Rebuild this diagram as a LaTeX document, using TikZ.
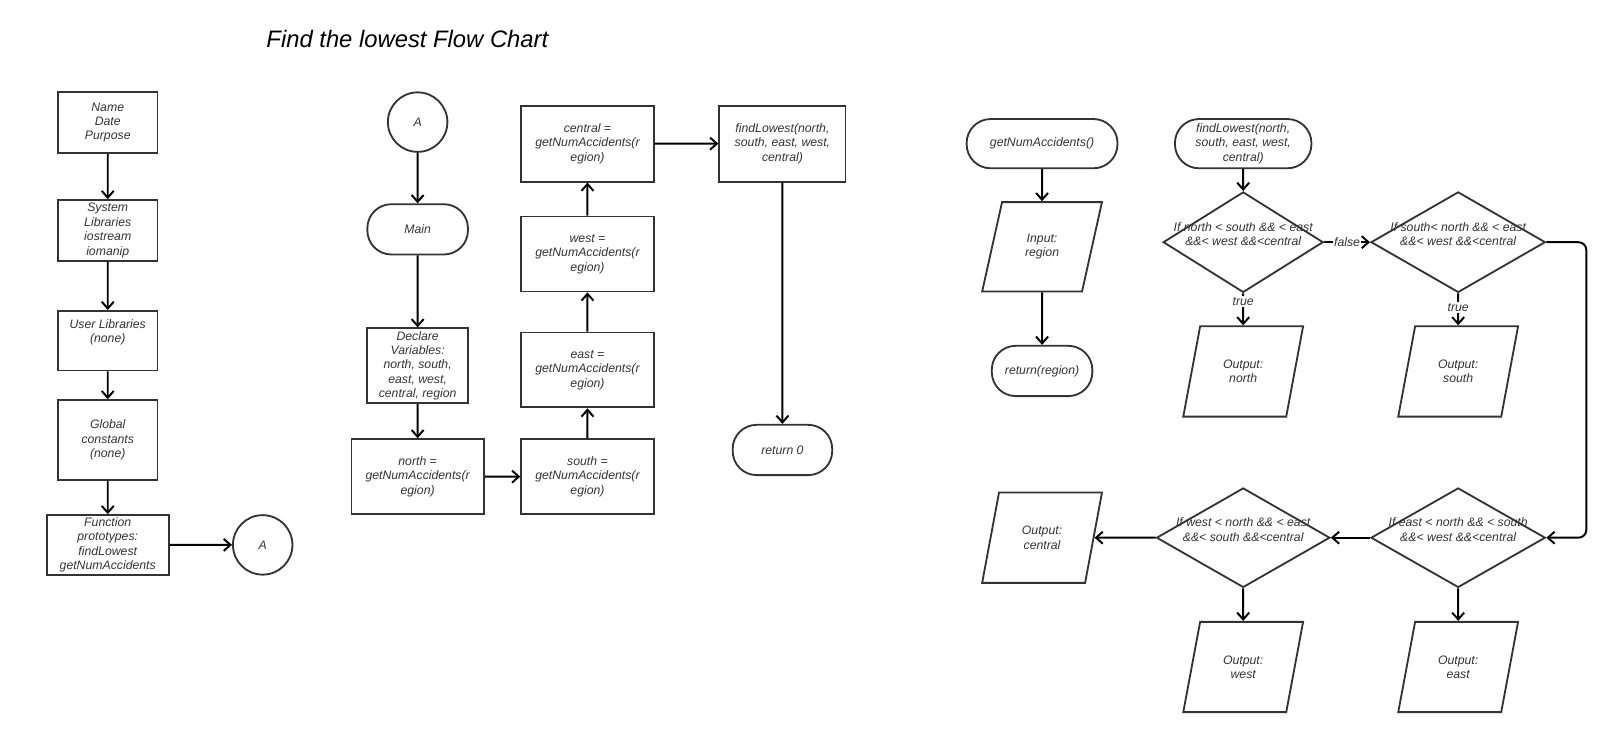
\documentclass[tikz,border=0pt]{standalone}
\usepackage{fontspec}
\setmainfont{Liberation Sans}
\usetikzlibrary{shapes.geometric, arrows.meta}

\begin{document}
\begin{tikzpicture}[x=0.02565cm, y=-0.02565cm,
    every node/.style={scale=1.026, font=\fontsize{8.5}{10}\selectfont\itshape, text=black!80, align=center},
    box/.style 2 args={draw=black!80, line width=1.3pt, minimum width=#1, minimum height=#2, inner sep=1pt},
    term/.style 2 args={box={#1}{#2}, rounded corners=0.6cm},
    io/.style 2 args={trapezium, trapezium left angle=72, trapezium right angle=108, trapezium stretches=true,
        draw=black!80, line width=1.3pt, minimum width=#1, minimum height=#2, inner sep=1pt},
    dec/.style 2 args={diamond, draw=black!80, line width=1.3pt, minimum width=#1, minimum height=#2, inner sep=0pt},
    dtext/.style={yshift=0.2cm},
    conn/.style={circle, draw=black!80, line width=1.3pt, minimum size=1.45cm, inner sep=0pt},
    arr/.style={-{Straight Barb[length=1.7mm,width=3mm]}, line width=1.4pt},
    lbl/.style={fill=white, inner sep=1pt}]
    \useasboundingbox (0,0) rectangle (1568,713.3);

    % Title
    \node[font=\fontsize{16.5}{20}\selectfont\itshape, text=black] (title) at (397,38) {Find the lowest Flow Chart};

    % Header column
    \node[box={2.425cm}{1.475cm}] (header) at (105,119.5) {Name\\Date\\Purpose};
    \node[box={2.425cm}{1.475cm}] (syslib) at (105,224.5) {System\\Libraries\\iostream\\iomanip};
    \node[box={2.425cm}{1.45cm}] (userlib) at (105,332) {User Libraries\\(none)\\\strut};
    \node[box={2.425cm}{1.95cm}] (globals) at (105,429) {Global\\constants\\(none)};
    \node[box={2.975cm}{1.45cm}] (protos) at (105,531) {Function\\prototypes:\\findLowest\\getNumAccidents};
    \node[conn] (connA1) at (256,531) {A};

    \draw[arr] (header) -- (syslib);
    \draw[arr] (syslib) -- (userlib);
    \draw[arr] (userlib) -- (globals);
    \draw[arr] (globals) -- (protos);
    \draw[arr] (protos) -- (connA1);

    % Main
    \node[conn] (connA2) at (407,119) {A};
    \node[term={2.45cm}{1.225cm}] (main) at (407,223.5) {Main};
    \node[box={2.45cm}{1.825cm}] (declare) at (407,356.5) {Declare\\Variables:\\north, south,\\east, west,\\central, region};
    \node[box={3.225cm}{1.825cm}] (north) at (407,464.5) {north =\\getNumAccidents(r\\egion)};
    \node[box={3.225cm}{1.825cm}] (south) at (572.5,464.5) {south =\\getNumAccidents(r\\egion)};
    \node[box={3.225cm}{1.825cm}] (east) at (572.5,360.5) {east =\\getNumAccidents(r\\egion)};
    \node[box={3.225cm}{1.825cm}] (west) at (572.5,247.5) {west =\\getNumAccidents(r\\egion)};
    \node[box={3.225cm}{1.85cm}] (central) at (572.5,140) {central =\\getNumAccidents(r\\egion)};
    \node[box={3.075cm}{1.85cm}] (callfind) at (762.5,140) {findLowest(north,\\south, east, west,\\central)};
    \node[term={2.425cm}{1.225cm}] (ret0) at (762.5,438.5) {return 0};

    \draw[arr] (connA2) -- (main);
    \draw[arr] (main) -- (declare);
    \draw[arr] (declare) -- (north);
    \draw[arr] (north) -- (south);
    \draw[arr] (south) -- (east);
    \draw[arr] (east) -- (west);
    \draw[arr] (west) -- (central);
    \draw[arr] (central) -- (callfind);
    \draw[arr] (callfind) -- (ret0);

    % getNumAccidents
    \node[term={3.675cm}{1.2cm}] (getnum) at (1015.5,140) {getNumAccidents()};
    \node[io={2.925cm}{2.175cm}] (input) at (1015.5,240.5) {Input:\\region};
    \node[term={2.45cm}{1.225cm}] (retreg) at (1015.5,361.5) {return(region)};

    \draw[arr] (getnum) -- (input);
    \draw[arr] (input) -- (retreg);

    % findLowest
    \node[term={3.325cm}{1.2cm}] (find) at (1211.5,140) {findLowest(north,\\south, east, west,\\central)};
    \node[dec={3.9cm}{2.45cm}, label={[dtext]center:{If north < south \&\& < east\\\&\&< west \&\&<central}}] (ifnorth) at (1211.5,236) {};
    \node[dec={4.25cm}{2.45cm}, label={[dtext]center:{If south< north \&\& < east\\\&\&< west \&\&<central}}] (ifsouth) at (1421,236) {};
    \node[dec={4.25cm}{2.425cm}, label={[dtext]center:{If east < north \&\& < south\\\&\&< west \&\&<central}}] (ifeast) at (1421,524) {};
    \node[dec={4.225cm}{2.425cm}, label={[dtext]center:{If west < north \&\& < east\\\&\&< south \&\&<central}}] (ifwest) at (1211.5,524) {};
    \node[io={2.925cm}{2.2cm}] (outnorth) at (1211.5,362) {Output:\\north};
    \node[io={2.925cm}{2.2cm}] (outsouth) at (1421,362) {Output:\\south};
    \node[io={2.925cm}{2.2cm}] (outeast) at (1421,650) {Output:\\east};
    \node[io={2.925cm}{2.2cm}] (outwest) at (1211.5,650) {Output:\\west};
    \node[io={2.925cm}{2.2cm}] (outcentral) at (1015.5,524) {Output:\\central};

    \draw[arr] (find) -- (ifnorth);
    \draw[arr] (ifnorth) -- node[lbl]{false} (ifsouth);
    \draw[arr] (ifnorth) -- node[lbl, pos=0.25]{true} (outnorth);
    \draw[arr] (ifsouth) -- node[lbl, pos=0.45]{true} (outsouth);
    \draw[arr, rounded corners=0.2cm] (ifsouth.east) -- ++(39,0) |- (ifeast.east);
    \draw[arr] (ifeast) -- (ifwest);
    \draw[arr] (ifeast) -- (outeast);
    \draw[arr] (ifwest) -- (outwest);
    \draw[arr] (ifwest) -- (outcentral);
\end{tikzpicture}
\end{document}
